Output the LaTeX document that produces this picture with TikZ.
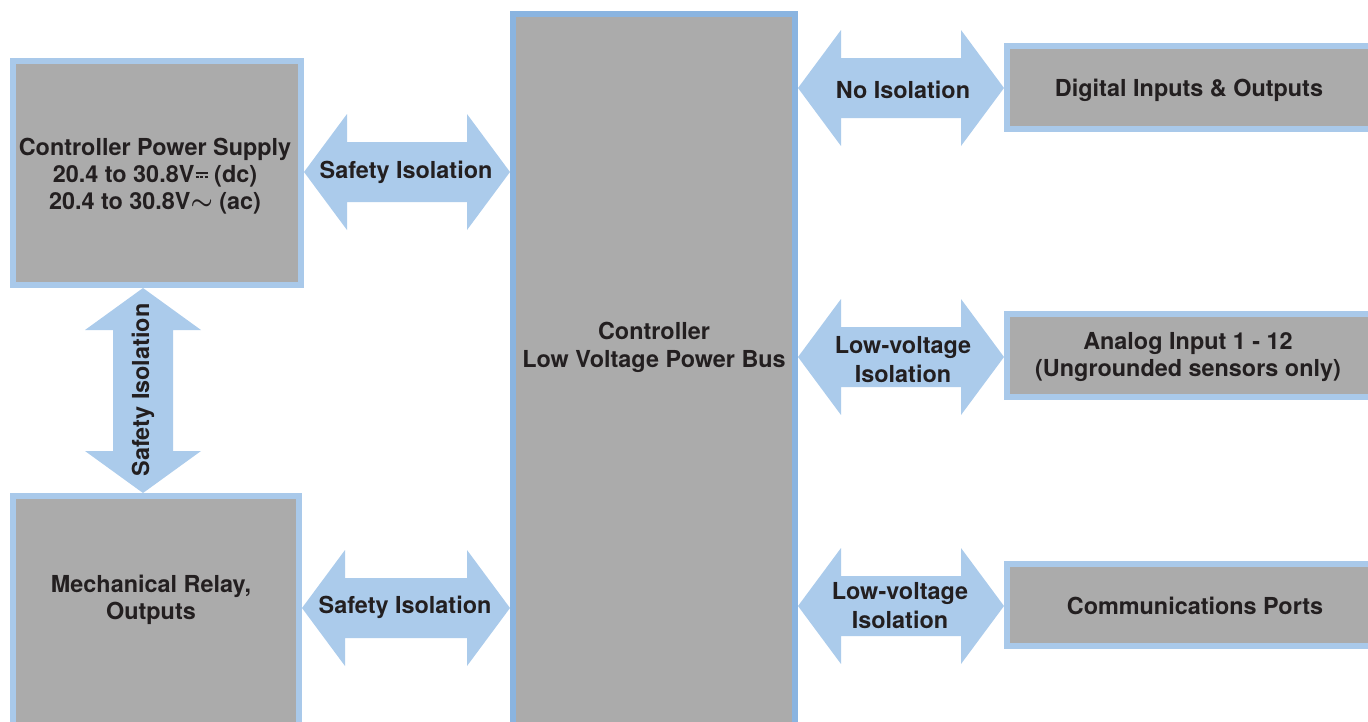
\documentclass[tikz,border=0pt]{standalone}
\usepackage{amsmath}
\usepackage{fontspec}
\setmainfont{TeX Gyre Heros}
\usetikzlibrary{calc}
\definecolor{boxgray}{HTML}{ABABAB}
\definecolor{lblue}{HTML}{A9C9EA}
\definecolor{dblue}{HTML}{8AB4E0}
\definecolor{afill}{HTML}{ABCBEB}
\definecolor{txt}{HTML}{231F20}
\newcommand\dcsym{\hspace{0.05em}\raisebox{0.22em}{\rlap{\rule[0.15em]{0.52em}{0.085em}}\rule{0.13em}{0.085em}\hspace{0.065em}\rule{0.13em}{0.085em}\hspace{0.065em}\rule{0.13em}{0.085em}}}
\newcommand\hdarrow[2]{\fill[afill] (#1) -- ++(43,-58) -- ++(0,28) -- ($(#2)+(-43,-30)$) -- ++(0,-28) -- (#2) -- ++(-43,58) -- ++(0,-28) -- ($(#1)+(43,30)$) -- ++(0,28) -- cycle;}
\newcommand\vdarrow[2]{\fill[afill] (#1) -- ++(58,42) -- ++(-28,0) -- ($(#2)+(30,-42)$) -- ++(28,0) -- (#2) -- ++(-58,-42) -- ++(28,0) -- ($(#1)+(-30,42)$) -- ++(-28,0) -- cycle;}
\begin{document}
\begin{tikzpicture}[x=1pt,y=-1pt,
  lbl/.style={text=txt,font=\fontsize{23.4}{27}\selectfont\bfseries,align=center,inner sep=0pt},
  box/.style={draw=lblue,line width=6pt,fill=boxgray,inner sep=0pt},
  busbox/.style={box,draw=dblue}]
\useasboundingbox (0,0) rectangle (1368,721);
\clip (0,0) rectangle (1368,721);
% boxes
\node[box,minimum width=288pt,minimum height=224pt] (ps) at (157,173) {};
\node[lbl] (pstxt) at (155,176.5)
  {Controller Power Supply\\20.4 to 30.8V\dcsym\ (dc)\\20.4 to 30.8V$\boldsymbol{\sim}$ (ac)};
\node[box,minimum width=286pt,minimum height=229pt] (relay) at (156,610.5) {};
\node[lbl] (relaytxt) at (151,599.5) {Mechanical Relay,\\Outputs};
\node[busbox,minimum width=282pt,minimum height=711pt] (bus) at (654,369.5) {};
\node[lbl,font=\fontsize{23.4}{28}\selectfont\bfseries] (bustxt) at (654,347) {Controller\\Low Voltage Power Bus};
\node[box,minimum width=364pt,minimum height=83pt] (dig) at (1189,87.5) {};
\node[lbl] (digtxt) at (1189,90) {Digital Inputs \& Outputs};
\node[box,minimum width=364pt,minimum height=83pt] (ana) at (1189,355.5) {};
\node[lbl] (anatxt) at (1188,357.5) {Analog Input 1 - 12\\(Ungrounded sensors only)};
\node[box,minimum width=364pt,minimum height=82pt] (com) at (1189,605) {};
\node[lbl] (comtxt) at (1195,606) {Communications Ports};
% arrow centres
\coordinate (c1) at (406,172);
\coordinate (c2) at (406,608);
\coordinate (c3) at (900,88);
\coordinate (c4) at (900,357);
\coordinate (c5) at (900,606);
\coordinate (c6) at (143,390);
% arrows
\hdarrow{ps.east |- c1}{bus.west |- c1}
\hdarrow{relay.east |- c2}{bus.west |- c2}
\hdarrow{bus.east |- c3}{dig.west |- c3}
\hdarrow{bus.east |- c4}{ana.west |- c4}
\hdarrow{bus.east |- c5}{com.west |- c5}
\vdarrow{ps.south -| c6}{relay.north -| c6}
% labels
\node[lbl] (l1) at (406,172) {Safety Isolation};
\node[lbl] (l2) at (405,607.5) {Safety Isolation};
\node[lbl] (l3) at (903,89.5) {No Isolation};
\node[lbl,font=\fontsize{23.4}{29}\selectfont\bfseries] (l4) at (903,359.5) {Low-voltage\\Isolation};
\node[lbl,font=\fontsize{23.4}{29}\selectfont\bfseries] (l5) at (900,606) {Low-voltage\\Isolation};
\node[lbl,rotate=90] (l6) at (c6) {Safety Isolation};
\end{tikzpicture}
\end{document}
